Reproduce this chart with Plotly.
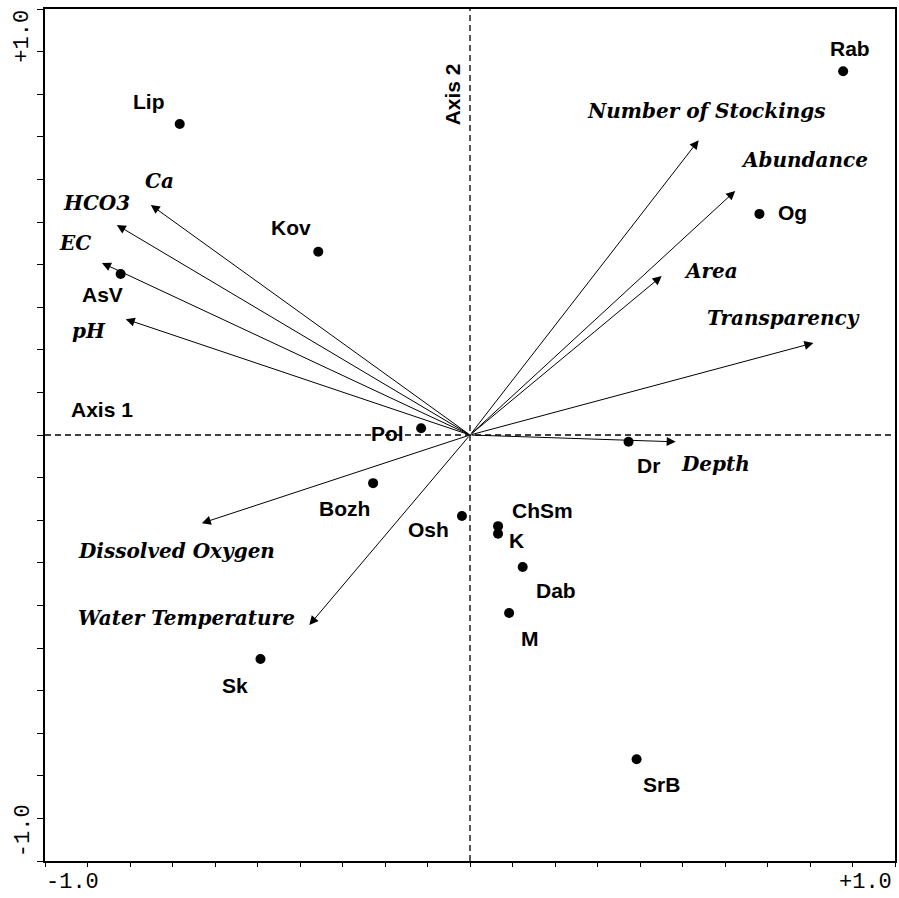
import plotly.graph_objects as go

# sites (sample scores)
sites = ["Rab", "Lip", "Kov", "AsV", "Og", "Pol", "Bozh", "Osh", "Sk",
         "Dr", "ChSm", "K", "Dab", "M", "SrB"]
site_x = [0.878, -0.683, -0.357, -0.822, 0.681, -0.115, -0.228, -0.019, -0.493,
          0.373, 0.066, 0.066, 0.124, 0.092, 0.392]
site_y = [0.854, 0.730, 0.430, 0.378, 0.519, 0.016, -0.113, -0.190, -0.526,
          -0.016, -0.214, -0.232, -0.310, -0.418, -0.761]

# environmental variables (arrow tips)
variables = ["Number of Stockings", "Abundance", "Area", "Transparency", "Depth",
             "Dissolved Oxygen", "Water Temperature", "Ca", "HCO3", "EC", "pH"]
var_x = [0.538, 0.624, 0.451, 0.808, 0.484, -0.631, -0.378, -0.751, -0.831, -0.866, -0.810]
var_y = [0.692, 0.573, 0.373, 0.216, -0.016, -0.207, -0.446, 0.540, 0.493, 0.404, 0.272]

# label offsets in pixels (dx, dy with y up)
site_off = [(7, 23), (-31, 23), (-27, 24), (-18, -21), (33, 1), (-34, -5), (-29, -25),
            (-33, -14), (-25, -26), (20, -24), (44, 16), (18, -7), (33, -23), (21, -25), (25, -25)]
var_off = [(8, 29), (69, 31), (49, 5), (-30, 25), (40, -22), (-25, -28), (-123, 7),
           (9, 24), (-20, 22), (-27, 20), (-37, -12)]

fig = go.Figure()

fig.add_trace(go.Scatter(
    x=site_x, y=site_y, mode="markers",
    marker=dict(color="black", size=10),
    hovertext=sites, hoverinfo="text", showlegend=False,
))

# dashed axes through the origin
fig.add_shape(type="line", x0=-1, x1=1, y0=0, y1=0,
              line=dict(color="black", width=1.3, dash="6px,4px"))
fig.add_shape(type="line", x0=0, x1=0, y0=-1, y1=1,
              line=dict(color="black", width=1.3, dash="6px,4px"))

var_font = dict(family="DejaVu Serif", size=20, color="black", style="italic", weight="bold")
for name, x, y, (dx, dy) in zip(variables, var_x, var_y, var_off):
    fig.add_annotation(x=x, y=y, ax=0, ay=0, axref="x", ayref="y", xref="x", yref="y",
                       text="", showarrow=True, arrowhead=2, arrowsize=1.8,
                       arrowwidth=1, arrowcolor="black", standoff=0)
    fig.add_annotation(x=x, y=y, text=name, showarrow=False, xshift=dx, yshift=dy,
                       font=var_font)

site_font = dict(family="Liberation Sans", size=21, color="black")
for name, x, y, (dx, dy) in zip(sites, site_x, site_y, site_off):
    fig.add_annotation(x=x, y=y, text=f"<b>{name}</b>", showarrow=False,
                       xshift=dx, yshift=dy, font=site_font)

fig.add_annotation(x=-0.865, y=0.06, text="<b>Axis 1</b>", showarrow=False, font=site_font)
fig.add_annotation(x=-0.042, y=0.8, text="<b>Axis 2</b>", showarrow=False, textangle=-90,
                   font=site_font)

tick_font = dict(family="Liberation Mono", size=22, color="black")
fig.add_annotation(x=-0.935, y=0, xref="x", yref="paper", yshift=-21, text="-1.0",
                   showarrow=False, font=tick_font, xanchor="center", yanchor="middle")
fig.add_annotation(x=0.93, y=0, xref="x", yref="paper", yshift=-21, text="+1.0",
                   showarrow=False, font=tick_font, xanchor="center", yanchor="middle")
fig.add_annotation(x=0, y=0.935, xref="paper", yref="y", xshift=-22, text="+1.0",
                   showarrow=False, textangle=-90, font=tick_font,
                   xanchor="center", yanchor="middle")
fig.add_annotation(x=0, y=-0.93, xref="paper", yref="y", xshift=-22, text="-1.0",
                   showarrow=False, textangle=-90, font=tick_font,
                   xanchor="center", yanchor="middle")

axis_style = dict(range=[-1, 1], showgrid=False, zeroline=False, showticklabels=False,
                  ticks="outside", tick0=0, dtick=0.1, ticklen=4, tickcolor="black",
                  showline=True, linecolor="black", linewidth=2, mirror=True)

fig.update_layout(
    width=899, height=898,
    margin=dict(l=45, r=2, t=9, b=37),
    plot_bgcolor="white", paper_bgcolor="white",
    xaxis=axis_style, yaxis=dict(axis_style, ticklen=6),
    showlegend=False,
)

fig.write_html("out.html", config={"displayModeBar": False},
               post_script="document.body.style.margin='0';")
